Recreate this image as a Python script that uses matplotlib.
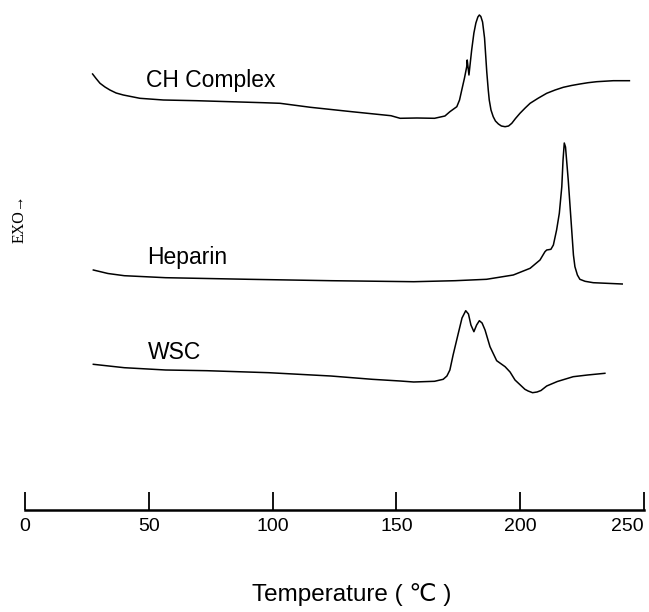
import matplotlib
matplotlib.use("Agg")
import matplotlib.pyplot as plt
import numpy as np

# DSC traces: temperature (C) and heat flow (arbitrary, exo up)
ch_temp = [27.3, 28.7, 30.3, 32.3, 34.3, 36.8, 39.7, 46.4, 55.9, 69.3, 82.8, 96.2, 103.0,
           115.3, 132.0, 147.8, 151.5, 158.3, 165.4, 169.6, 171.6, 174.4, 175.5, 176.4,
           177.5, 178.4, 178.6, 179.3, 180.4, 181.3, 182.1, 182.9, 183.5, 184.1, 184.8,
           185.6, 186.5, 187.1, 187.5, 188.2, 189.1, 190.0, 191.2, 192.4, 193.9, 195.3,
           196.6, 198.1, 199.9, 202.0, 204.0, 207.2, 210.7, 214.1, 217.4, 220.7, 224.1,
           227.4, 230.9, 237.6, 244.1]
ch_flow = [436, 431.5, 426.7, 423, 420, 417, 415, 411.7, 410, 409.3, 408.3, 407.3, 406.7,
           402.7, 398.3, 394.3, 391.7, 392, 391.7, 394, 398.3, 403.3, 410, 420,
           432, 443.3, 450, 435, 460, 477, 487, 493, 495, 493.5, 488,
           472, 438, 420, 410, 400, 393.3, 389, 386, 384, 383.3, 384,
           386.7, 391.5, 396.7, 402, 406.7, 411.7, 416.7, 420, 422.7, 424.5, 426,
           427.3, 428.3, 429.3, 429.3]

hep_temp = [27.6, 33.5, 40.1, 56.8, 90.2, 123.6, 157.0, 173.7, 186.4, 197.2, 204.0, 208.0,
            210.0, 210.7, 212.4, 213.4, 214.7, 215.8, 216.8, 217.3, 217.8, 218.3, 218.9,
            219.4, 220.1, 220.8, 221.5, 222.1, 223.1, 224.1, 226.2, 229.5, 241.2]
hep_flow = [240, 236.5, 234.3, 232.3, 230.7, 229.3, 228.3, 229.3, 230.7, 235, 241.7, 250,
            258.3, 260, 260.7, 265, 280, 296.7, 323.3, 350, 367, 363, 345,
            330, 305, 280, 255, 243.3, 235, 230.7, 228.7, 227.3, 226]

wsc_temp = [27.6, 40.1, 56.8, 73.5, 98.5, 123.5, 140.2, 151.5, 157.0, 165.4, 168.9, 170.4,
            171.6, 172.9, 175.0, 176.5, 178.0, 179.1, 180.1, 181.3, 182.4, 183.5, 184.6,
            185.8, 187.8, 190.5, 193.9, 195.9, 197.9, 201.9, 203.2, 205.0, 206.8, 208.4,
            210.7, 215.0, 221.4, 227.2, 234.2]
wsc_flow = [145.7, 142.3, 140, 139.3, 137.3, 134, 130.7, 129, 128, 128.7, 130.7, 134,
            140, 155, 176.7, 192, 199.3, 196, 185, 178.3, 185, 189.3, 187,
            180, 163.3, 149.3, 143.3, 138, 130, 120.7, 119, 117.3, 118, 119.5,
            124, 128.5, 133.3, 135, 136.7]

samples = ["CH Complex", "Heparin", "WSC"]
label_pos = [(48.9, 423.3), (49.3, 246), (49.7, 151)]
xticks = [0, 50, 100, 150, 200, 250]

fig = plt.figure(figsize=(6.49, 6.12), dpi=100)
ax = fig.add_axes([25 / 649, 102 / 612, 619 / 649, 510 / 612])

for t, f in [(ch_temp, ch_flow), (hep_temp, hep_flow), (wsc_temp, wsc_flow)]:
    ax.plot(t, f, color="black", lw=1.1)

for name, (x, y) in zip(samples, label_pos):
    ax.text(x, y, name, fontsize=16.5, family=["Liberation Sans", "DejaVu Sans"],
            ha="left", va="baseline")

ax.set_xlim(0, 250)
ax.set_ylim(0, 510)
ax.set_xticks(xticks)
ax.set_yticks([])
for side in ["left", "right", "top"]:
    ax.spines[side].set_visible(False)
ax.spines["bottom"].set_linewidth(1.8)
ax.tick_params(axis="x", direction="in", length=13, width=1.3, pad=6, labelsize=14)
for lab in ax.get_xticklabels():
    lab.set_family(["Liberation Sans", "DejaVu Sans"])
ax.get_xticklabels()[-1].set_horizontalalignment("right")

ax.set_xlabel("Temperature ( ℃ )", fontsize=17.5, family=["Liberation Sans", "DejaVu Sans"])
ax.xaxis.set_label_coords((352 - 25) / 619, -0.143)

fig.text(20 / 649, 1 - 219 / 612, "EXO→", rotation=90, fontsize=11.5,
         family=["Liberation Serif", "DejaVu Serif"], ha="center", va="center")

fig.savefig("out.png", dpi=100)
